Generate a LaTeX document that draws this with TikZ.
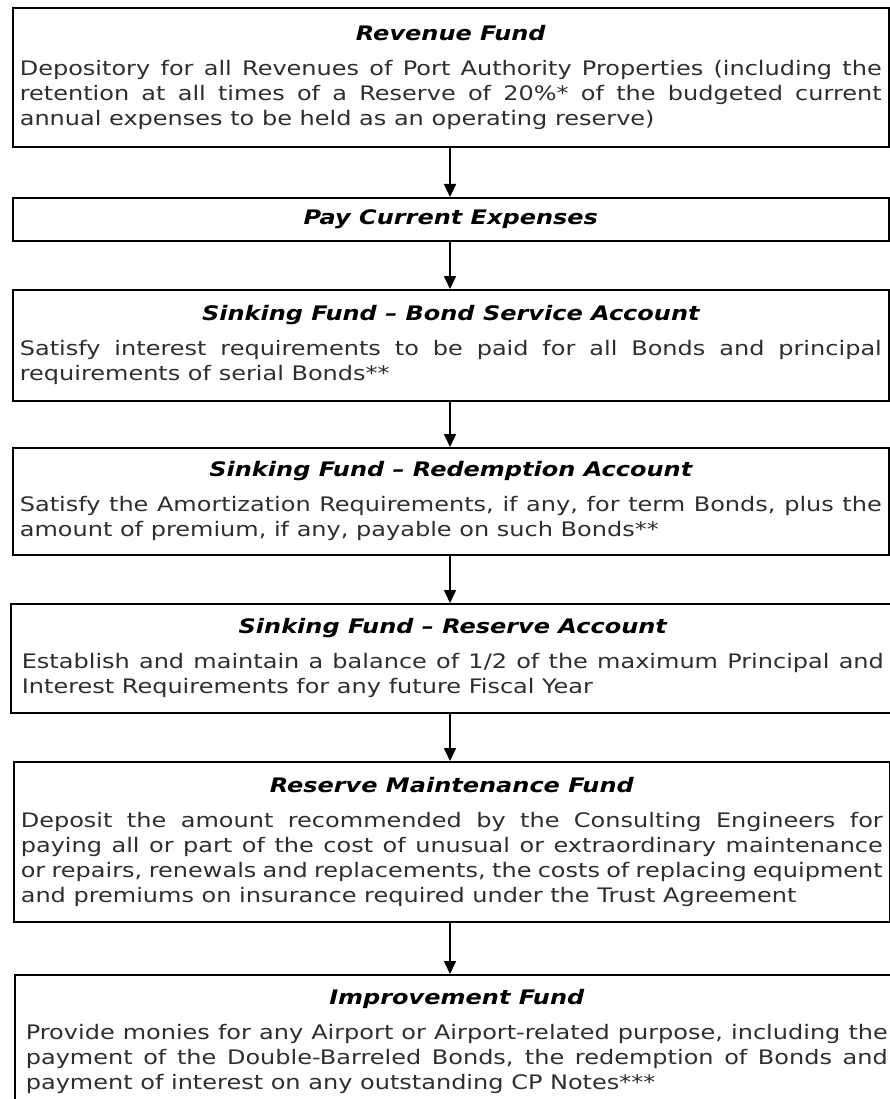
\documentclass[tikz,border=0pt]{standalone}
\usepackage{fontspec}
\setmainfont{DejaVu Sans}[FakeStretch=1.2]
\usetikzlibrary{arrows.meta}
\definecolor{bodygray}{gray}{0.18}
\newcommand{\fundtitle}[1]{{\centering\bfseries\itshape\color{black}#1\par}\vspace{10pt}}
\tikzset{
  fund/.style={draw=black, line width=1.6pt, anchor=north west, minimum width=876pt,
    text width=862pt, inner xsep=7pt, inner ysep=0pt, align=justify,
    font=\fontsize{20}{25}\selectfont, text=bodygray},
  flow/.style={draw=black, line width=1.6pt, -{Triangle[length=13pt,width=12pt]}}
}
\begin{document}
\begin{tikzpicture}[x=1pt,y=-1pt]
\path[use as bounding box] (0,0) rectangle (890,1099);
\clip (0,0) rectangle (890,1099);
\coordinate (axis) at (450,0);
\node[fund, minimum height=139pt] (b1) at (12,7) {\fundtitle{Revenue Fund}Depository for all Revenues of Port Authority Properties (including the\linebreak retention at all times of a Reserve of 20\%* of the budgeted current\linebreak annual expenses to be held as an operating reserve)};
\node[fund, minimum height=43pt] (b2) at (12,197) {{\centering\bfseries\itshape\color{black}Pay Current Expenses\par}};
\node[fund, minimum height=111pt] (b3) at (12,289) {\fundtitle{Sinking Fund -- Bond Service Account}Satisfy interest requirements to be paid for all Bonds and principal\linebreak requirements of serial Bonds**};
\node[fund, minimum height=107pt] (b4) at (12,447) {\fundtitle{Sinking Fund -- Redemption Account}Satisfy the Amortization Requirements, if any, for term Bonds, plus the\linebreak amount of premium, if any, payable on such Bonds**};
\node[fund, minimum height=109pt, minimum width=884pt] (b5) at (10,603) {\fundtitle{Sinking Fund -- Reserve Account}Establish and maintain a balance of 1/2 of the maximum Principal and\linebreak Interest Requirements for any future Fiscal Year};
\node[fund, minimum height=160pt, minimum width=875pt] (b6) at (13,761) {\fundtitle{Reserve Maintenance Fund}Deposit the amount recommended by the Consulting Engineers for\linebreak paying all or part of the cost of unusual or extraordinary maintenance\linebreak or repairs, renewals and replacements, the costs of replacing equipment\linebreak and premiums on insurance required under the Trust Agreement};
\node[fund, minimum height=134pt, minimum width=884pt] (b7) at (14,974) {\fundtitle{Improvement Fund}Provide monies for any Airport or Airport-related purpose, including the\linebreak payment of the Double-Barreled Bonds, the redemption of Bonds and\linebreak payment of interest on any outstanding CP Notes***};
\draw[flow] (b1.south -| axis) -- (b2.north -| axis);
\draw[flow] (b2.south -| axis) -- (b3.north -| axis);
\draw[flow] (b3.south -| axis) -- (b4.north -| axis);
\draw[flow] (b4.south -| axis) -- (b5.north -| axis);
\draw[flow] (b5.south -| axis) -- (b6.north -| axis);
\draw[flow] (b6.south -| axis) -- (b7.north -| axis);
\end{tikzpicture}
\end{document}
